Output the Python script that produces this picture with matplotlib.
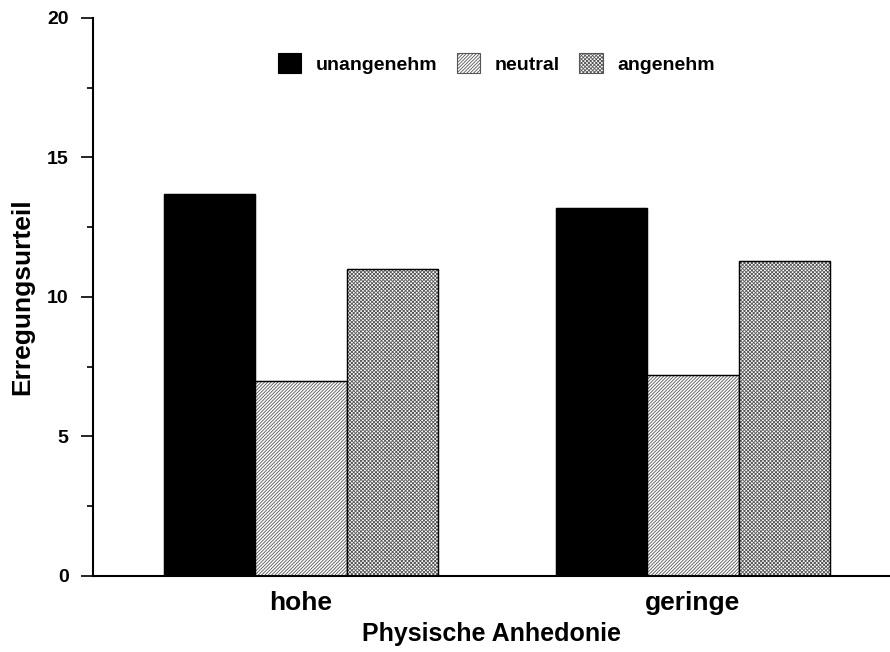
import numpy as np
import matplotlib
matplotlib.use("Agg")
from matplotlib import pyplot as plt
from matplotlib.ticker import MultipleLocator

plt.rcParams['font.family'] = ['Liberation Sans', 'DejaVu Sans']
plt.rcParams['font.weight'] = 'bold'
plt.rcParams['hatch.linewidth'] = 0.6

GROUPS     = ["hohe", "geringe"]
SERIES     = ["unangenehm", "neutral", "angenehm"]
UNANGENEHM = [13.7, 13.2]
NEUTRAL    = [7.0, 7.2]
ANGENEHM   = [11.0, 11.3]

fig = plt.figure(figsize=(8.9, 6.52), dpi=100)
ax = fig.add_axes([0.1045, 0.1166, 0.8955, 0.8558])

x = np.arange(len(GROUPS))
w = 0.233
styles = [dict(color="black", edgecolor="black"),
          dict(facecolor="white", edgecolor="#555555", hatch="//////////"),
          dict(facecolor="white", edgecolor="#555555", hatch="xxxxxxxxx")]
for i, (name, vals) in enumerate(zip(SERIES, [UNANGENEHM, NEUTRAL, ANGENEHM])):
    ax.bar(x + (i - 1) * w, vals, w, label=name, linewidth=0.8, **styles[i])
    # black outline over the hatch colour
    ax.bar(x + (i - 1) * w, vals, w, facecolor="none", edgecolor="black", linewidth=1.0)

ax.set_xlim(-0.531, 1.503)
ax.set_ylim(0, 20)
ax.yaxis.set_major_locator(MultipleLocator(5))
ax.yaxis.set_minor_locator(MultipleLocator(2.5))
ax.tick_params(axis="y", which="major", length=8.6, width=1.2, labelsize=14, pad=9)
ax.tick_params(axis="y", which="minor", length=4.3, width=1.2)
ax.set_xticks(x)
ax.set_xticklabels(GROUPS, fontsize=19, fontweight="bold")
ax.tick_params(axis="x", length=0, pad=11)
for lab in ax.get_yticklabels():
    lab.set_fontweight("bold")
ax.spines["top"].set_visible(False)
ax.spines["right"].set_visible(False)
ax.spines["left"].set_linewidth(1.5)
ax.spines["bottom"].set_linewidth(1.5)

ax.set_ylabel("Erregungsurteil", fontsize=19, fontweight="bold", labelpad=9)
ax.set_xlabel("Physische Anhedonie", fontsize=18, fontweight="bold", labelpad=5)

handles, labels = ax.get_legend_handles_labels()
ax.legend(handles, labels, loc="center", bbox_to_anchor=(0.506, 0.9185), ncol=3,
          frameon=False, fontsize=14, handlelength=1.2, handleheight=1.2,
          columnspacing=1.0, handletextpad=0.75)

plt.savefig("out.png", dpi=100)
